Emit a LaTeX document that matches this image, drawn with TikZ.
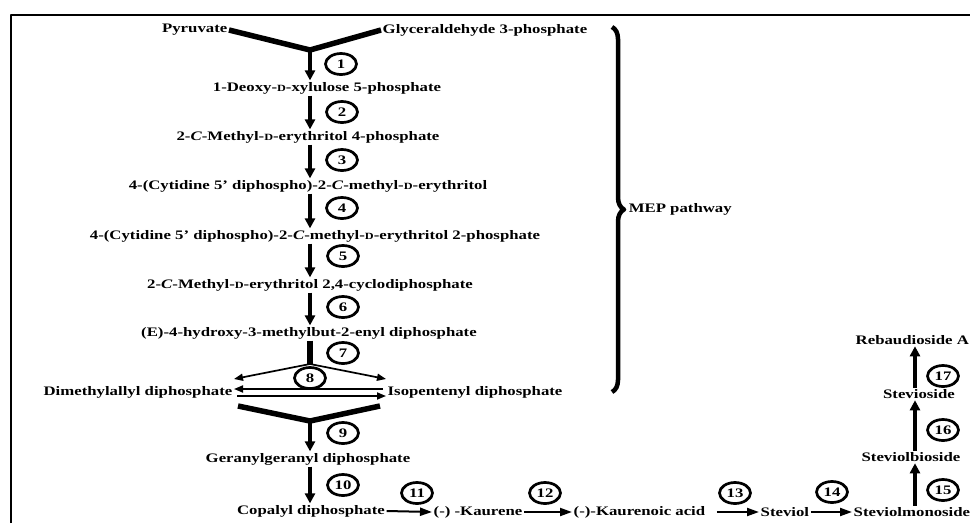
\documentclass[tikz,border=0pt]{standalone}
\usepackage{fontspec}
\setmainfont[FakeStretch=1.29]{Liberation Serif}
\usetikzlibrary{arrows.meta,calc,positioning,shapes.geometric,decorations.pathreplacing}
\tikzset{cmpd/.style={inner sep=1.5pt},
  stepno/.style={ellipse,draw,line width=2.7pt,minimum width=31pt,minimum height=21pt,inner sep=0pt,font=\bfseries\fontsize{13}{13}\selectfont},
  flow/.style={-{Triangle[length=10pt,width=10pt]},line width=3.2pt},
  hflow/.style={-{Triangle[length=12pt,width=8pt]},line width=2pt},
  tflow/.style={-{Triangle[length=9pt,width=7pt]},line width=1.7pt},
  yarm/.style={line width=5.5pt,line cap=butt}}
\newcommand{\dsc}{{\fontsize{9.5}{9.5}\selectfont D}}

\begin{document}
\begin{tikzpicture}[x=1pt,y=-1pt,>=Stealth,line join=round,font=\bfseries\fontsize{13}{14}\selectfont]
\useasboundingbox (0,0) rectangle (970,523);
% --- frame
\draw[line width=2.5pt] (11,523) -- (11,15) -- (970,15);
\coordinate (sp) at (310,0);
\coordinate (rc) at (915,0);
% --- MEP pathway
\node[cmpd,anchor=east] (pyr) at (229,30) {Pyruvate};
\node[cmpd,anchor=west] (gap) at (381,30) {Glyceraldehyde 3-phosphate};
\node[cmpd] (dxp) at (327,88) {1-Deoxy-\dsc-xylulose 5-phosphate};
\node[cmpd] (mep) at (308,137) {2-\textit{C}-Methyl-\dsc-erythritol 4-phosphate};
\node[cmpd] (cdpme) at (308,186) {4-(Cytidine 5' diphospho)-2-\textit{C}-methyl-\dsc-erythritol};
\node[cmpd] (cdpmep) at (315,236) {4-(Cytidine 5' diphospho)-2-\textit{C}-methyl-\dsc-erythritol 2-phosphate};
\node[cmpd] (mecpp) at (310,285) {2-\textit{C}-Methyl-\dsc-erythritol 2,4-cyclodiphosphate};
\node[cmpd] (hmbpp) at (309,333) {(E)-4-hydroxy-3-methylbut-2-enyl diphosphate};
\node[cmpd,anchor=east] (dmapp) at (234,392) {Dimethylallyl diphosphate};
\node[cmpd,anchor=west] (ipp) at (386,392) {Isopentenyl diphosphate};
\coordinate (v1) at (310,50);
\coordinate (j7) at (310,364);
\coordinate (v9) at (310,421);
\draw[yarm] (pyr.east) -- (v1) -- (gap.west);
\draw[flow] (v1) -- (dxp.north -| sp);
\draw[flow] (dxp.south -| sp) -- (mep.north -| sp);
\draw[flow] (mep.south -| sp) -- (cdpme.north -| sp);
\draw[flow] (cdpme.south -| sp) -- (cdpmep.north -| sp);
\draw[flow] (cdpmep.south -| sp) -- (mecpp.north -| sp);
\draw[flow] (mecpp.south -| sp) -- (hmbpp.north -| sp);
\draw[line width=6pt] (hmbpp.south -| sp) -- (j7);
\draw[tflow] (j7) -- ([yshift=13pt]dmapp.east);
\draw[tflow] (j7) -- ([yshift=13pt]ipp.west);
\draw[tflow] ([yshift=3pt,xshift=-3pt]ipp.west) -- ([yshift=3pt]dmapp.east);
\draw[tflow] ([yshift=-4pt,xshift=3pt]dmapp.east) -- ([yshift=-4pt]ipp.west);
\draw[yarm] ([yshift=-14pt,xshift=4pt]dmapp.east) -- (v9) -- ([yshift=-14pt,xshift=-6pt]ipp.west);
\draw[line width=4.5pt,decorate,decoration={brace,amplitude=12pt}] (612,27) -- (612,392) node[midway,right=13pt,cmpd] (meplab) {MEP pathway};
% --- diterpene part
\node[cmpd] (ggpp) at (308,459) {Geranylgeranyl diphosphate};
\node[cmpd] (cpp) at (311,511) {Copalyl diphosphate};
\node[cmpd,anchor=west] (kau) at (432,512) {(-) -Kaurene};
\node[cmpd,anchor=west] (kaua) at (572,512) {(-)-Kaurenoic acid};
\node[cmpd,anchor=west] (stv) at (759,512) {Steviol};
\node[cmpd,anchor=west] (stvm) at (852,512) {Steviolmonoside};
\node[cmpd] (stvb) at (911,457) {Steviolbioside};
\node[cmpd] (stvs) at (919,394) {Stevioside};
\node[cmpd,anchor=west] (reba) at (854,340) {Rebaudioside A};
\draw[flow] (v9) -- (ggpp.north -| sp);
\draw[flow] (ggpp.south -| sp) -- (cpp.north -| sp);
\draw[hflow] (cpp.east) -- (kau.west);
\draw[hflow] (kau.east) -- (kaua.west);
\draw[hflow] ([xshift=10pt]kaua.east) -- (stv.west);
\draw[hflow] (stv.east) -- (stvm.west);
\draw[flow] (stvm.north -| rc) -- (stvb.south -| rc);
\draw[flow] (stvb.north -| rc) -- (stvs.south -| rc);
\draw[flow] (stvs.north -| rc) -- (reba.south -| rc);
% --- step numbers
\node[stepno] (s1) at (341,64) {1};
\node[stepno] (s2) at (342,112) {2};
\node[stepno] (s3) at (342,160) {3};
\node[stepno] (s4) at (342,208) {4};
\node[stepno] (s5) at (343,256) {5};
\node[stepno] (s6) at (343,307) {6};
\node[stepno] (s7) at (343,353) {7};
\node[stepno] (s8) at (310,378) {8};
\node[stepno] (s9) at (343,433) {9};
\node[stepno] (s10) at (343,485) {10};
\node[stepno] (s11) at (417,493) {11};
\node[stepno] (s12) at (545,493) {12};
\node[stepno] (s13) at (735,493) {13};
\node[stepno] (s14) at (832,492) {14};
\node[stepno] (s15) at (943,490) {15};
\node[stepno] (s16) at (943,430) {16};
\node[stepno] (s17) at (943,376) {17};
\end{tikzpicture}
\end{document}
